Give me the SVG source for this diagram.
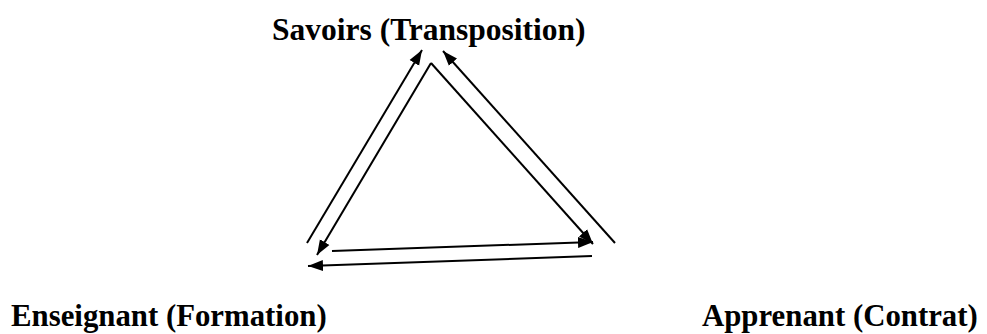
<svg xmlns="http://www.w3.org/2000/svg" width="987" height="334" viewBox="0 0 987 334">
<style>
.lbl{font-family:"Liberation Serif","Times New Roman",serif;font-weight:bold;font-size:31.5px;fill:#000}
.bot{font-size:30.8px}
.c{stroke:#000;stroke-width:2;fill:none;marker-end:url(#ah)}
</style>
<defs>
<marker id="ah" markerUnits="userSpaceOnUse" markerWidth="16" markerHeight="12" refX="15" refY="6" orient="auto">
<path d="M0,0.5 L15,6 L0,11.5 z" fill="#000"/>
</marker>
</defs>
<rect width="987" height="334" fill="#fff"/>
<g id="connectors">
<line class="c" x1="307" y1="243" x2="422" y2="50"/>
<line class="c" x1="431" y1="63" x2="317" y2="255"/>
<line class="c" x1="431" y1="63" x2="593" y2="244"/>
<line class="c" x1="615" y1="243" x2="443" y2="51"/>
<line class="c" x1="332" y1="251" x2="593" y2="242"/>
<line class="c" x1="592" y1="256" x2="308" y2="266"/>
</g>
<g id="savoirs"><text class="lbl" x="272" y="40">Savoirs (Transposition)</text></g>
<g id="enseignant"><text class="lbl bot" x="11" y="326">Enseignant (Formation)</text></g>
<g id="apprenant"><text class="lbl bot" x="702" y="326">Apprenant (Contrat)</text></g>
</svg>
